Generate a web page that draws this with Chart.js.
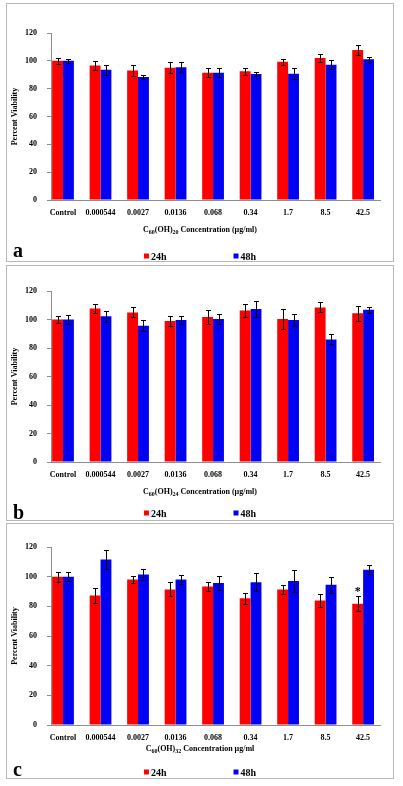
<!DOCTYPE html>
<html>
<head>
<meta charset="utf-8">
<script src="https://cdn.jsdelivr.net/npm/chart.js@4.4.0/dist/chart.umd.min.js"></script>
<style>
  body { margin: 0; background: #fff; }
  .panel { position: absolute; left: 6px; border: 1px solid #b8b8b8; background: #fff; }
  .panel canvas { display: block; }
  #pa { top: 3px; }
  #pb { top: 265px; }
  #pc { top: 523px; }
</style>
</head>
<body>
<div class="panel" id="pa"><canvas id="ca" width="386" height="257"></canvas></div>
<div class="panel" id="pb"><canvas id="cb" width="386" height="254"></canvas></div>
<div class="panel" id="pc"><canvas id="cc" width="386" height="254"></canvas></div>
<script>
"use strict";

// concentrations (µg/ml)
const categories = ["Control", "0.000544", "0.0027", "0.0136", "0.068", "0.34", "1.7", "8.5", "42.5"];
const seriesLabels = ["24h", "48h"];

// panel a: C60(OH)20
const a24 = [100, 96.7, 93, 95, 91.5, 92.5, 99.3, 102, 107.8];
const a24Err = [2, 3, 3.7, 4, 3, 2.5, 2, 2.8, 3.5];
const a48 = [100, 93.6, 88.3, 95.3, 91.5, 90.5, 90.8, 97.2, 101.1];
const a48Err = [1.5, 3.6, 1.5, 3.6, 3, 1.5, 3.8, 3.2, 1.8];

// panel b: C60(OH)24
const b24 = [100, 107.8, 105, 99, 101.7, 106.4, 100.3, 108.5, 104.3];
const b24Err = [2.8, 3, 3.5, 3.8, 5.2, 4.3, 7, 3.5, 5.2];
const b48 = [100, 102.2, 95.6, 99.6, 100.3, 107.4, 99.6, 86, 106.9];
const b48Err = [3, 3.7, 4, 3, 3.4, 5.7, 4, 3.5, 2];

// panel c: C60(OH)32
const c24 = [100, 87.3, 98.1, 91.4, 93.4, 85.5, 91.4, 84, 81.7];
const c24Err = [3.4, 4.8, 2.6, 4.7, 3, 3.8, 3.2, 4.2, 5];
const c48 = [100, 111.6, 101.5, 98.1, 95.7, 96.3, 97, 94.5, 104.7];
const c48Err = [3, 6.4, 3.6, 3.2, 4.8, 6, 7.3, 5.2, 3.2];
// significant points: [series, category]
const cStars = [[0, 8]];

const yMin = 0;
const yMax = 120;
const yStep = 20;

const RED = "#fe0000";
const BLUE = "#0000f4";
const AXIS = "#8e8e8e";
const SERIF = "'Liberation Serif', 'Times New Roman', serif";

const extras = {
  id: "extras",
  afterDatasetsDraw(chart, args, opts) {
    const ctx = chart.ctx;
    const yScale = chart.scales.y;
    ctx.save();
    ctx.strokeStyle = "#000";
    ctx.lineWidth = 1;
    chart.data.datasets.forEach((ds, d) => {
      const meta = chart.getDatasetMeta(d);
      meta.data.forEach((bar, i) => {
        const v = ds.data[i].y;
        const e = ds.errors[i];
        const x = Math.round(bar.x) + 0.5;
        const top = Math.round(yScale.getPixelForValue(v + e)) + 0.5;
        const bot = Math.round(yScale.getPixelForValue(v - e)) + 0.5;
        ctx.beginPath();
        ctx.moveTo(x, top);
        ctx.lineTo(x, bot);
        ctx.moveTo(x - 2.5, top);
        ctx.lineTo(x + 2.5, top);
        ctx.moveTo(x - 2.5, bot);
        ctx.lineTo(x + 2.5, bot);
        ctx.stroke();
      });
    });
    // asterisks
    ctx.fillStyle = "#000";
    ctx.font = "bold 12px " + SERIF;
    ctx.textAlign = "center";
    ctx.textBaseline = "alphabetic";
    (opts.stars || []).forEach(([d, i]) => {
      const ds = chart.data.datasets[d];
      const bar = chart.getDatasetMeta(d).data[i];
      const top = yScale.getPixelForValue(ds.data[i].y + ds.errors[i]);
      ctx.fillText("*", bar.x, top - 1);
    });
    ctx.restore();
  },
  afterDraw(chart, args, opts) {
    const ctx = chart.ctx;
    const area = chart.chartArea;
    const w = chart.width;
    ctx.save();
    ctx.fillStyle = "#000";

    // y title
    ctx.font = "bold 8px " + SERIF;
    ctx.textAlign = "center";
    ctx.textBaseline = "middle";
    ctx.translate(8, (area.top + area.bottom) / 2);
    ctx.rotate(-Math.PI / 2);
    ctx.fillText("Percent Viability", 0, 0);
    ctx.setTransform(1, 0, 0, 1, 0, 0);

    // x title with subscripts
    const parts = [["C", 0], ["60", 1], ["(OH)", 0], [opts.sub, 1], [opts.unit, 0]];
    const fonts = ["bold 8px " + SERIF, "bold 6px " + SERIF];
    let total = 0;
    parts.forEach(([t, s]) => {
      ctx.font = fonts[s];
      total += ctx.measureText(t).width;
    });
    let x = w / 2 - total / 2;
    ctx.textAlign = "left";
    ctx.textBaseline = "alphabetic";
    parts.forEach(([t, s]) => {
      ctx.font = fonts[s];
      ctx.fillText(t, x, opts.titleY + (s ? 2 : 0));
      x += ctx.measureText(t).width;
    });

    // legend
    ctx.font = "bold 10px " + SERIF;
    ctx.textBaseline = "middle";
    const box = 5;
    const gap = 67;
    const items = chart.data.datasets.map((ds) => ({
      label: ds.label,
      color: ds.backgroundColor,
      width: box + 2 + ctx.measureText(ds.label).width,
    }));
    const lw = items.reduce((s, it) => s + it.width, 0) + gap * (items.length - 1);
    let lx = w / 2 - lw / 2;
    items.forEach((it) => {
      ctx.fillStyle = it.color;
      ctx.fillRect(lx, opts.legendY - box / 2, box, box);
      ctx.fillStyle = "#000";
      ctx.fillText(it.label, lx + box + 2, opts.legendY + 1);
      lx += it.width + gap;
    });

    // panel letter
    ctx.font = "bold 20px " + SERIF;
    ctx.textBaseline = "alphabetic";
    ctx.fillText(opts.letter, 6, opts.letterY);
    ctx.restore();
  },
};

const makeChart = function (canvasId, v24, e24, v48, e48, cfg) {
  const toPoints = (vals) => vals.map((v, i) => ({ x: i, y: v }));
  return new Chart(document.getElementById(canvasId), {
    type: "bar",
    data: {
      datasets: [
        { label: seriesLabels[0], data: toPoints(v24), errors: e24, backgroundColor: RED },
        { label: seriesLabels[1], data: toPoints(v48), errors: e48, backgroundColor: BLUE },
      ],
    },
    options: {
      responsive: false,
      animation: false,
      categoryPercentage: 0.58,
      barPercentage: 1,
      layout: { padding: { top: cfg.top, right: 13, left: 0, bottom: 0 } },
      plugins: {
        legend: { display: false },
        tooltip: { enabled: false },
        extras: cfg,
      },
      scales: {
        x: {
          type: "linear",
          offset: false,
          min: -0.32,
          max: 8.45,
          afterBuildTicks: (scale) => {
            scale.ticks = categories.map((_, i) => ({ value: i }));
          },
          afterFit: (scale) => {
            scale.height = cfg.xHeight;
            scale.paddingLeft = 0;
            scale.paddingRight = 0;
          },
          grid: { display: false, drawTicks: false },
          border: { display: true, color: AXIS, width: 1 },
          ticks: {
            autoSkip: false,
            maxRotation: 0,
            padding: 8,
            color: "#000",
            font: { family: SERIF, size: 8, weight: "bold" },
            callback: (v) => categories[v],
          },
        },
        y: {
          min: yMin,
          max: yMax,
          afterFit: (scale) => {
            scale.width = 44;
          },
          grid: { drawOnChartArea: false, drawTicks: true, tickLength: 4, color: AXIS },
          border: { display: true, color: AXIS, width: 1 },
          ticks: {
            stepSize: yStep,
            padding: 10,
            color: "#000",
            font: { family: SERIF, size: 8, weight: "bold" },
          },
        },
      },
    },
    plugins: [extras],
  });
};

makeChart("ca", a24, a24Err, a48, a48Err, {
  top: 29, xHeight: 61, titleY: 228, legendY: 252, letter: "a", letterY: 253,
  sub: "20", unit: " Concentration (µg/ml)", stars: [],
});
makeChart("cb", b24, b24Err, b48, b48Err, {
  top: 25, xHeight: 58, titleY: 228, legendY: 247, letter: "b", letterY: 253,
  sub: "24", unit: " Concentration (µg/ml)", stars: [],
});
makeChart("cc", c24, c24Err, c48, c48Err, {
  top: 23, xHeight: 53, titleY: 227, legendY: 248, letter: "c", letterY: 252,
  sub: "32", unit: " Concentration µg/ml", stars: cStars,
});
</script>
</body>
</html>
